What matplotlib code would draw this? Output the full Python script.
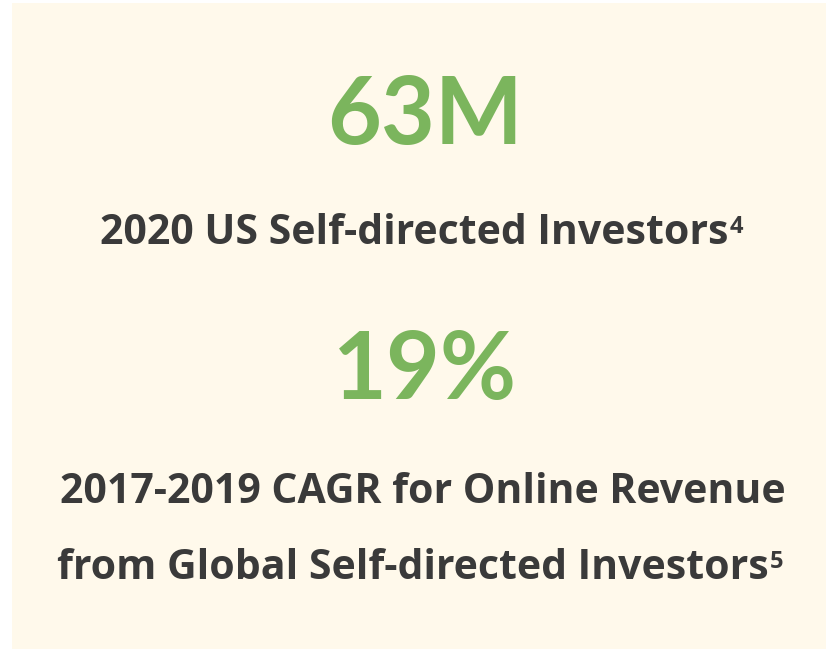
import matplotlib
matplotlib.use("Agg")
import matplotlib.pyplot as plt
from matplotlib.patches import Rectangle

# Data
headline_values = ["63M", "19%"]
caption_lines = [
    ["2020 US Self-directed Investors"],
    ["2017-2019 CAGR for Online Revenue", "from Global Self-directed Investors"],
]
footnotes = ["4", "5"]

GREEN = "#7bb55d"
DARK = "#3a3a3a"
BG = "#fff9eb"

W, H = 826, 649
fig = plt.figure(figsize=(W / 100, H / 100), dpi=100)
ax = fig.add_axes([0, 0, 1, 1])
ax.set_xlim(0, W)
ax.set_ylim(H, 0)
ax.axis("off")
ax.add_patch(Rectangle((12, 3), W - 12, H - 3, facecolor=BG, edgecolor="none"))

fig.canvas.draw()
renderer = fig.canvas.get_renderer()

def width_px(t):
    return t.get_window_extent(renderer).width

def caption(x_center, y_base, s, sup, size=29.5):
    t = ax.text(0, y_base, s, fontsize=size, fontweight="bold", family="Open Sans",
                color=DARK, ha="left", va="baseline")
    wm = width_px(t)
    if sup:
        ts = ax.text(0, y_base - 11, sup, fontsize=17, fontweight="bold",
                     family="Open Sans", color=DARK, ha="left", va="baseline")
        wsup = width_px(ts)
    else:
        ts, wsup = None, 0
    left = x_center - (wm + wsup) / 2
    t.set_x(left)
    if ts is not None:
        ts.set_x(left + wm + 1)

# headline 1
ax.text(425, 144, headline_values[0], fontsize=67, fontweight="bold", family="Lato",
        color=GREEN, ha="center", va="baseline")
caption(421, 244, caption_lines[0][0], footnotes[0])

ax.text(425, 399, headline_values[1], fontsize=67, fontweight="bold", family="Lato",
        color=GREEN, ha="center", va="baseline")
caption(423, 503, caption_lines[1][0], None)
caption(420, 579, caption_lines[1][1], footnotes[1])

fig.savefig("out.png", dpi=100, facecolor="white")
